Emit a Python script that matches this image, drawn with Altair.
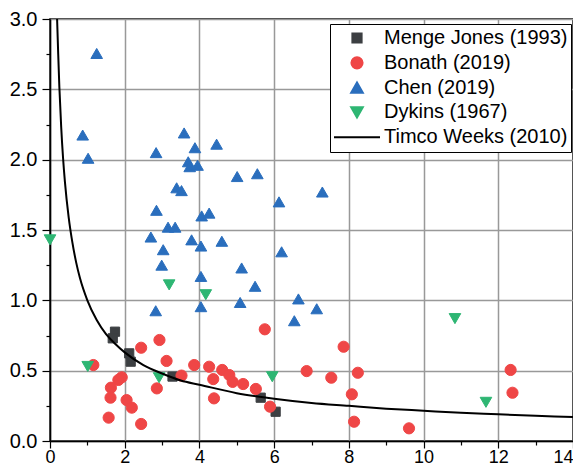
import altair as alt
import pandas as pd

series_names = ["Menge Jones (1993)", "Bonath (2019)", "Chen (2019)", "Dykins (1967)", "Timco Weeks (2010)"]
series_colors = ["#3c3f42", "#ef4646", "#2a6ebd", "#2eb673", "#000000"]
series_shapes = ["square", "circle", "triangle-up", "triangle-down", "stroke"]
series_sizes = [85, 125, 135, 135, 2116]

menge_x = [1.74, 1.68, 2.12, 2.16, 3.28, 5.64, 6.04]
menge_y = [0.777, 0.73, 0.623, 0.564, 0.458, 0.308, 0.208]

bonath_x = [1.16, 2.44, 2.93, 3.12, 3.86, 4.26, 3.52, 1.92, 1.83, 1.63, 2.86, 1.62,
            2.05, 2.19, 1.57, 2.44, 4.37, 4.61, 4.80, 4.89, 5.17, 5.51, 4.39, 5.75,
            5.89, 6.87, 7.53, 7.86, 8.24, 8.08, 8.14, 9.61, 12.33, 12.38]
bonath_y = [0.54, 0.663, 0.718, 0.569, 0.54, 0.528, 0.465, 0.453, 0.434, 0.379, 0.374, 0.308,
            0.291, 0.237, 0.166, 0.121, 0.44, 0.505, 0.469, 0.42, 0.405, 0.37, 0.303, 0.794,
            0.244, 0.497, 0.45, 0.67, 0.485, 0.332, 0.137, 0.09, 0.505, 0.343]

chen_x = [1.25, 0.875, 1.02, 2.84, 3.59, 3.88, 4.46, 3.70, 3.74, 3.95, 5.01, 5.55,
          3.39, 3.52, 6.13, 2.85, 4.06, 4.26, 3.16, 3.35, 7.29, 3.79, 4.04, 4.60,
          3.03, 6.20, 2.99, 5.13, 4.04, 5.49, 6.65, 7.14, 5.09, 4.04, 6.54, 2.83, 2.70]
chen_y = [2.755, 2.175, 2.01, 2.05, 2.19, 2.085, 2.11, 1.985, 1.95, 1.96, 1.88, 1.90,
          1.80, 1.78, 1.70, 1.64, 1.60, 1.62, 1.52, 1.52, 1.77, 1.43, 1.386, 1.42,
          1.36, 1.345, 1.25, 1.23, 1.17, 1.10, 1.01, 0.94, 0.985, 0.955, 0.855, 0.926, 1.45]

dykins_x = [0.0, 1.01, 3.19, 4.17, 2.92, 5.95, 10.84, 11.67]
dykins_y = [1.43, 0.53, 1.11, 1.04, 0.45, 0.457, 0.87, 0.275]

curve_x = [0.19, 0.22, 0.25, 0.3, 0.35, 0.4, 0.5, 0.6, 0.7, 0.8, 1.0, 1.25, 1.5, 1.75, 2.0,
           2.5, 3.0, 3.5, 4.0, 5.0, 6.0, 7.0, 8.0, 9.0, 10.0, 11.0, 12.0, 13.0, 14.0]
curve_y = [3.0, 2.75, 2.52, 2.23, 2.01, 1.84, 1.59, 1.41, 1.27, 1.16, 1.0, 0.86, 0.76, 0.69, 0.63,
           0.54, 0.48, 0.43, 0.40, 0.34, 0.30, 0.27, 0.25, 0.23, 0.215, 0.20, 0.19, 0.18, 0.17]

x_ticks = list(range(0, 15))
y_ticks = [i * 0.25 for i in range(13)]

frames = []
for name, xs, ys in [(series_names[0], menge_x, menge_y),
                     (series_names[1], bonath_x, bonath_y),
                     (series_names[2], chen_x, chen_y),
                     (series_names[3], dykins_x, dykins_y)]:
    frames.append(pd.DataFrame({"x": xs, "y": ys, "series": name}))
points_df = pd.concat(frames, ignore_index=True)
curve_df = pd.DataFrame({"x": curve_x, "y": curve_y})

FONT = "Liberation Sans"

x_enc = alt.X(
    "x:Q",
    scale=alt.Scale(domain=[0, 14], nice=False, zero=False),
    axis=alt.Axis(
        title=None,
        values=x_ticks,
        labelExpr="datum.value % 2 === 0 ? datum.label : ''",
        labelAlign={"condition": {"test": "datum.value === 14", "value": "right"}, "value": "center"},
        tickSize={"condition": {"test": "datum.value % 2 !== 0", "value": 4}, "value": 7},
        gridOpacity={"condition": {"test": "datum.value % 2 !== 0", "value": 0}, "value": 1},
        labelFont=FONT, labelFontSize=18, labelColor="black", labelPadding=0,
        domainColor="black", domainWidth=1.5, tickColor="black", tickWidth=1.2,
        gridColor="#999999", gridWidth=1.5, labelFlush=False, labelOverlap=False,
    ),
)
y_enc = alt.Y(
    "y:Q",
    scale=alt.Scale(domain=[0, 3], nice=False, zero=False),
    axis=alt.Axis(
        title=None,
        values=y_ticks,
        labelExpr="(datum.value * 4) % 2 === 0 ? format(datum.value, '.1f') : ''",
        tickSize={"condition": {"test": "(datum.value * 4) % 2 !== 0", "value": 4}, "value": 8},
        gridOpacity={"condition": {"test": "(datum.value * 4) % 2 !== 0", "value": 0}, "value": 1},
        labelFont=FONT, labelFontSize=20, labelColor="black", labelPadding=5,
        domainColor="black", domainWidth=1.5, tickColor="black", tickWidth=1.2,
        gridColor="#999999", gridWidth=1.5, labelFlush=False, labelOverlap=False,
    ),
)

legend = alt.Legend(
    title=None, orient="none", legendX=280, legendY=5, padding=3,
    strokeColor="black", fillColor="white",
    labelFont=FONT, labelFontSize=20, labelColor="black", labelLimit=400,
    clipHeight=22, rowPadding=2.8, labelOffset=3, symbolStrokeWidth=2,
)

points = alt.Chart(points_df).mark_point(filled=True, opacity=1, strokeWidth=1).encode(
    x=x_enc,
    y=y_enc,
    color=alt.Color("series:N", scale=alt.Scale(domain=series_names, range=series_colors), legend=legend),
    stroke=alt.Stroke("series:N", scale=alt.Scale(domain=series_names, range=series_colors), legend=legend),
    shape=alt.Shape("series:N", scale=alt.Scale(domain=series_names, range=series_shapes), legend=legend),
    size=alt.Size("series:N", scale=alt.Scale(type="ordinal", domain=series_names, range=series_sizes), legend=legend),
)

curve = alt.Chart(curve_df).mark_line(color="black", strokeWidth=2, interpolate="monotone").encode(
    x=x_enc,
    y=y_enc,
)

chart = alt.layer(points, curve).properties(
    width=523, height=422,
    autosize=alt.AutoSizeParams(type="none"),
    padding={"left": 42, "top": 11, "right": 0, "bottom": 25},
    background="white",
).configure_view(stroke="black", strokeWidth=1.5)

chart.save("out.html", embed_options={"renderer": "svg", "actions": False})
